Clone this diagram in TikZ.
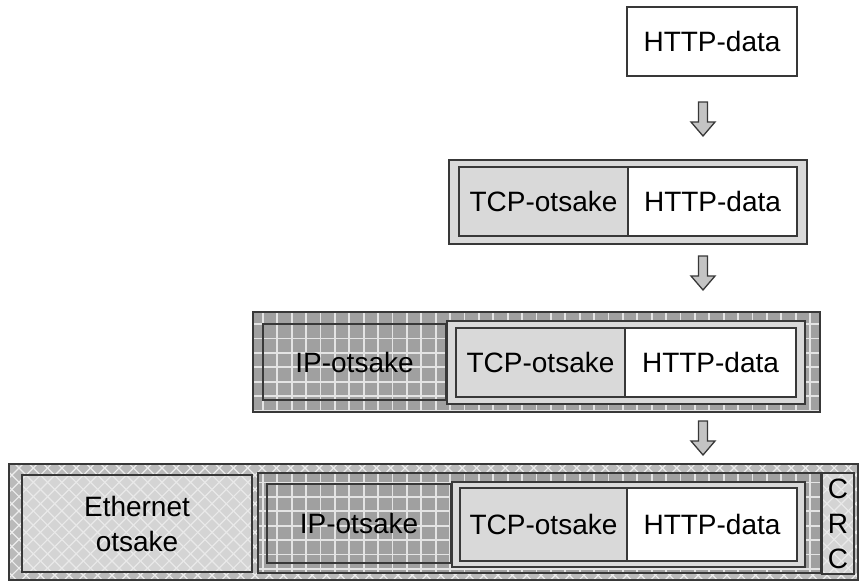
\documentclass[tikz,border=0pt]{standalone}
\usepackage{fontspec}
\setmainfont{Liberation Sans}

\definecolor{edge}{HTML}{383838}
\definecolor{cellgray}{HTML}{D9D9D9}
\definecolor{gridbg}{HTML}{A0A0A0}
\definecolor{gridline}{HTML}{E4E4E4}
\definecolor{hatchbg}{HTML}{BABABA}
\definecolor{hatchline}{HTML}{EDEDED}
\definecolor{lightbg}{HTML}{D4D4D4}
\definecolor{lightline}{HTML}{E9E9E9}
\definecolor{arrowfill}{HTML}{C4C4C4}

\tikzset{
  cell/.style={draw=edge, line width=1.8pt, inner sep=0pt, outer sep=0pt,
    anchor=north west, text=black, font=\fontsize{28}{35}\selectfont, align=center},
  header/.style={cell, fill=cellgray},
  payload/.style={cell, fill=white},
  wrapper/.style={cell, fill=cellgray},
  texbase/.style={inner sep=0pt, outer sep=0pt, anchor=north west},
  edgeline/.style={draw=edge, line width=1.8pt},
  labeltext/.style={inner sep=0pt, text=black, font=\fontsize{28}{35}\selectfont, align=center},
  gridstroke/.style={draw=gridline, line width=1.8pt},
  hatchstroke/.style={draw=hatchline, line width=1.2pt},
  softstroke/.style={draw=lightline, line width=1.2pt},
  blockarrow/.style={fill=arrowfill, draw=edge, line width=1.3pt, line join=miter},
  pics/downarrow/.style={code={
    \draw[blockarrow] (-4.5,0) -- (4.5,0) -- (4.5,20) -- (12,20) -- (0,34)
      -- (-12,20) -- (-4.5,20) -- cycle;}},
}

% square grid, same phase everywhere
\newcommand\drawgrid{%
  \foreach \k in {-22,...,38} \draw[gridstroke] (306+14.4*\k,0) -- ++(0,581);
  \foreach \k in {-24,...,17} \draw[gridstroke] (0,338.5+14.4*\k) -- ++(859,0);}

% diagonal lattice in the given stroke style
\newcommand\drawlattice[1]{%
  \foreach \k in {-30,...,72} \draw[#1] (-163+14.3*\k,0) -- ++(600,600);
  \foreach \k in {-55,...,47} \draw[#1] (773+14.3*\k,0) -- ++(-600,600);}

% textured box: name, x, y, width, height, fill colour, texture, text
\newcommand\texbox[8]{%
  \node[texbase, fill=#6, minimum width=#4pt, minimum height=#5pt] (#1) at (#2,#3) {};
  \begin{scope}
    \clip (#1.north west) rectangle (#1.south east);
    #7
  \end{scope}
  \draw[edgeline] (#1.north west) rectangle (#1.south east);
  \node[labeltext] (#1-text) at (#1.center) {#8};}

\begin{document}
\begin{tikzpicture}[x=1pt, y=-1pt]
\useasboundingbox (0,0) rectangle (859,581);

% application layer
\node[payload, minimum width=170pt, minimum height=69pt] (http1) at (627,7) {HTTP-data};
\pic at (703,102) {downarrow};

% transport layer
\node[wrapper, minimum width=358pt, minimum height=84pt] (seg) at (449,160) {};
\node[header, minimum width=169pt, minimum height=69pt] (tcp2) at (459,167) {TCP-otsake};
\node[payload, minimum width=169pt, minimum height=69pt] (http2) at (628,167) {HTTP-data};
\pic at (703,256) {downarrow};

% network layer
\texbox{pkt}{253}{312}{567}{100}{gridbg}{\drawgrid}{}
\texbox{ip3}{263}{324}{183}{76}{gridbg}{\drawgrid}{IP-otsake}
\node[wrapper, minimum width=358pt, minimum height=83pt] (seg3) at (447,321) {};
\node[header, minimum width=169pt, minimum height=69pt] (tcp3) at (456,328) {TCP-otsake};
\node[payload, minimum width=171pt, minimum height=69pt] (http3) at (625,328) {HTTP-data};
\pic at (703,421) {downarrow};

% link layer
\texbox{frame}{9}{464}{849}{116}{hatchbg}{\drawlattice{hatchstroke}}{}
\texbox{eth}{22}{475}{230}{97}{lightbg}{\drawlattice{softstroke}}{Ethernet\\otsake}
\texbox{pkt4}{258}{473}{563}{100}{gridbg}{\drawgrid}{}
\texbox{ip4}{267}{484}{184}{79}{gridbg}{\drawgrid}{IP-otsake}
\node[wrapper, minimum width=353pt, minimum height=85pt] (seg4) at (452,482) {};
\node[header, minimum width=167pt, minimum height=73pt] (tcp4) at (460,488) {TCP-otsake};
\node[payload, minimum width=170pt, minimum height=73pt] (http4) at (627,488) {HTTP-data};
\texbox{crc}{822}{473}{32}{101}{lightbg}{\drawlattice{softstroke}}{C\\R\\C}
\end{tikzpicture}
\end{document}
